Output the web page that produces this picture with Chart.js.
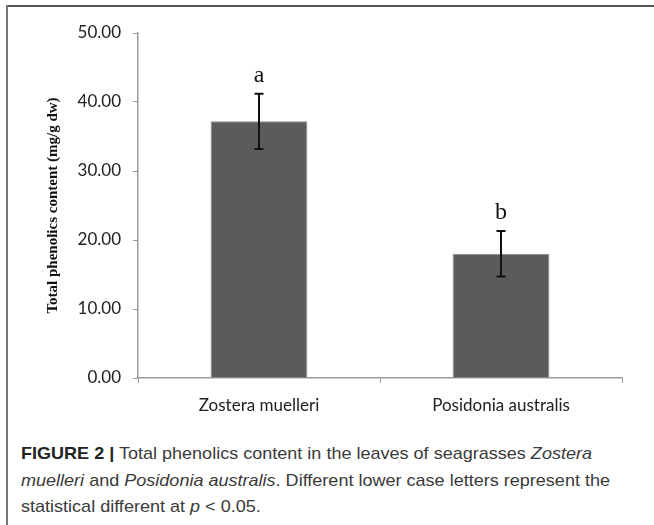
<!DOCTYPE html>
<html>
<head>
<meta charset="utf-8">
<script src="https://cdn.jsdelivr.net/npm/chart.js@4/dist/chart.umd.min.js"></script>
<style>
  html, body { margin: 0; padding: 0; background: #fff; }
  #wrap { position: relative; width: 654px; height: 525px; overflow: hidden; }
  #frameTop { position: absolute; left: 6px; top: 5px; width: 648px; height: 2px; background: #555; }
  #frameLeft { position: absolute; left: 6px; top: 5px; width: 2px; height: 520px; background: #777; }
  #cv { position: absolute; left: 0; top: 0; }
  #caption { position: absolute; left: 21px; top: 441px; width: 640px; font-family: "Liberation Sans", Arial, sans-serif; font-size: 17px; line-height: 26.5px; color: #3a3a3a; }
  #caption .ln { white-space: nowrap; transform-origin: 0 50%; width: max-content; }
  #caption b { color: #222; }
</style>
</head>
<body>
<div id="wrap">
  <canvas id="cv" width="654" height="430"></canvas>
  <div id="frameTop"></div>
  <div id="frameLeft"></div>
  <div id="caption">
    <div class="ln" id="ln1"><b>FIGURE 2 |</b> Total phenolics content in the leaves of seagrasses <i>Zostera</i></div>
    <div class="ln"><i>muelleri</i> and <i>Posidonia australis</i>. Different lower case letters represent the</div>
    <div class="ln">statistical different at <i>p</i> &lt; 0.05.</div>
  </div>
</div>
<script>
const categories = ["Zostera muelleri", "Posidonia australis"];
const phenolics = [37.2, 18.0];
const errors = [4.0, 3.3];
const letters = ["a", "b"];
const yTicks = [0, 10, 20, 30, 40, 50];

// fit caption lines horizontally (condensed look of the original)
(function () {
  const l1 = document.getElementById('ln1');
  const s = 571 / l1.getBoundingClientRect().width;
  document.querySelectorAll('#caption .ln').forEach(el => { el.style.transform = 'scaleX(' + s + ')'; });
})();

const errorBarPlugin = {
  id: 'errorBars',
  afterDatasetsDraw(chart) {
    const ctx = chart.ctx;
    const meta = chart.getDatasetMeta(0);
    const y = chart.scales.y;
    ctx.save();
    meta.data.forEach((bar, i) => {
      const x = bar.x;
      const top = y.getPixelForValue(phenolics[i] + errors[i]);
      const bot = y.getPixelForValue(phenolics[i] - errors[i]);
      ctx.strokeStyle = '#111';
      ctx.lineWidth = 2;
      ctx.beginPath();
      ctx.moveTo(x, top); ctx.lineTo(x, bot);
      ctx.moveTo(x - 4.5, top); ctx.lineTo(x + 4.5, top);
      ctx.moveTo(x - 4.5, bot); ctx.lineTo(x + 4.5, bot);
      ctx.stroke();
      ctx.fillStyle = '#111';
      ctx.font = '24px "Liberation Serif", "Times New Roman", serif';
      ctx.textAlign = 'center';
      ctx.textBaseline = 'alphabetic';
      ctx.fillText(letters[i], x, top - 12);
    });
    ctx.restore();
  }
};

new Chart(document.getElementById('cv'), {
  type: 'bar',
  data: {
    labels: categories,
    datasets: [{
      data: phenolics,
      backgroundColor: '#5b5b5b',
      borderColor: '#8a8a8a',
      borderWidth: 1,
      barPercentage: 0.4,
      categoryPercentage: 1.0
    }]
  },
  options: {
    responsive: false,
    animation: false,
    events: [],
    layout: { padding: { top: 33, right: 32, left: 44, bottom: 0 } },
    plugins: { legend: { display: false }, tooltip: { enabled: false } },
    scales: {
      x: {
        grid: { display: true, drawOnChartArea: false, offset: true, color: '#999', tickLength: 5, lineWidth: 1 },
        border: { display: true, color: '#999', width: 1.5 },
        ticks: { color: '#222', font: { family: 'Lato, "Open Sans", sans-serif', size: 17 }, padding: 12 },
        afterFit(s) { s.height = 430 - 378; }
      },
      y: {
        min: 0, max: 50,
        afterBuildTicks(s) { s.ticks = yTicks.map(v => ({ value: v })); },
        grid: { display: true, drawOnChartArea: false, color: '#999', tickLength: 5 },
        border: { display: true, color: '#999', width: 1.5 },
        ticks: { color: '#222', font: { family: 'Lato, "Open Sans", sans-serif', size: 17 }, padding: 12, callback: v => Number(v).toFixed(2) },
        title: { display: true, text: 'Total phenolics content (mg/g dw)', color: '#111', font: { family: '"Liberation Serif", "Times New Roman", serif', size: 15, weight: 'bold' }, padding: { top: 0, bottom: 4 } },
        afterFit(s) { s.width = 138 - 44; }
      }
    }
  },
  plugins: [errorBarPlugin]
});
</script>
</body>
</html>
